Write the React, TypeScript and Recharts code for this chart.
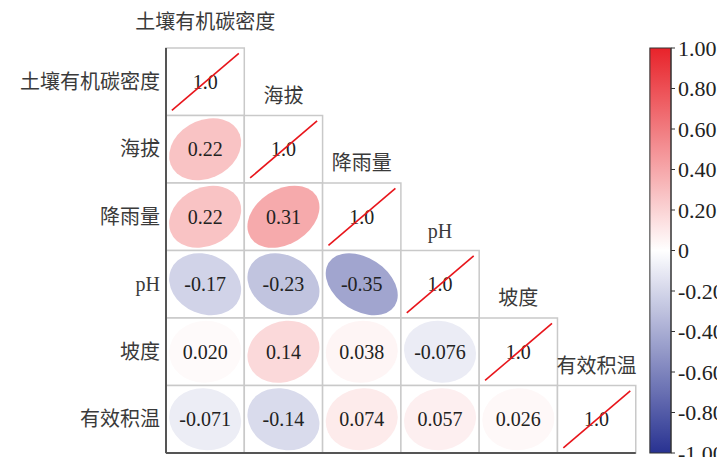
import { ScatterChart, Scatter, XAxis, YAxis, ReferenceArea, ReferenceLine } from "recharts";

const variables = ["土壤有机碳密度", "海拔", "降雨量", "pH", "坡度", "有效积温"];

// lower triangle of the correlation matrix, row by row
const corrRows = [
  [1.0],
  [0.22, 1.0],
  [0.22, 0.31, 1.0],
  [-0.17, -0.23, -0.35, 1.0],
  [0.02, 0.14, 0.038, -0.076, 1.0],
  [-0.071, -0.14, 0.074, 0.057, 0.026, 1.0],
];

const colorbarTicks = [1, 0.8, 0.6, 0.4, 0.2, 0, -0.2, -0.4, -0.6, -0.8, -1];

const FONT = '"Liberation Serif", "Noto Sans CJK SC", serif';
const RED = [232, 35, 42];
const BLUE = [40, 50, 145];

function colorFor(v: number, gain = 1) {
  const t = Math.min(1, Math.abs(v) * gain);
  const end = v >= 0 ? RED : BLUE;
  const c = end.map((e) => Math.round(255 + (e - 255) * t));
  return `rgb(${c.join(",")})`;
}

interface CellDatum {
  row: number;
  col: number;
  r: number;
}

const cells: CellDatum[] = corrRows.flatMap((row, i) =>
  row.map((r, j) => ({ row: i, col: j, r })),
);

const points = cells.map((c) => ({ x: c.col + 0.5, y: c.row + 0.5 }));
// anchors the colour-bar axis to its [-1, 1] range
const cbPoints = colorbarTicks.map((v) => ({ x: 6.3, y: v }));

function CellShape(props: any) {
  const { x, y, width: w, height: h, cell } = props;
  const { row, col, r } = cell as CellDatum;
  const cx = x + w / 2;
  const cy = y + h / 2;
  const diag = row === col;
  const s = 0.46;
  return (
    <g>
      <rect x={x} y={y} width={w} height={h} fill="#fff" stroke="#c9c9c9" strokeWidth={1.5} />
      {!diag && (
        <ellipse
          cx={0}
          cy={0}
          rx={s * Math.sqrt(1 + Math.abs(r))}
          ry={s * Math.sqrt(1 - Math.abs(r))}
          fill={colorFor(r, 1.25)}
          transform={`translate(${cx},${cy}) scale(${w},${h}) rotate(${r >= 0 ? -45 : 45})`}
        />
      )}
      <text
        x={cx}
        y={cy}
        textAnchor="middle"
        dominantBaseline="central"
        fontFamily={FONT}
        fontSize={20}
        fill="#222"
      >
        {r.toPrecision(2)}
      </text>
      {diag && (
        <>
          <line
            x1={x + 0.075 * w}
            y1={y + 0.925 * h}
            x2={x + 0.93 * w}
            y2={y + 0.08 * h}
            stroke="#e8151b"
            strokeWidth={1.6}
          />
          <text
            x={cx}
            y={y - (col === 0 ? 26 : 20)}
            textAnchor="middle"
            dominantBaseline="central"
            fontFamily={FONT}
            fontSize={20}
            fill="#3a3a3a"
          >
            {variables[col]}
          </text>
        </>
      )}
    </g>
  );
}

function ColorbarShape(props: any) {
  const { x, y, width, height } = props;
  const stops = [];
  for (let i = 0; i <= 40; i++) {
    const v = 1 - i / 20;
    stops.push(<stop key={i} offset={`${(i / 40) * 100}%`} stopColor={colorFor(v)} />);
  }
  return (
    <g>
      <defs>
        <linearGradient id="cbGrad" x1="0" y1="0" x2="0" y2="1">
          {stops}
        </linearGradient>
      </defs>
      <rect x={x} y={y} width={width} height={height} fill="url(#cbGrad)" stroke="#333" strokeWidth={1} />
    </g>
  );
}

export default function App() {
  return (
    <ScatterChart width={717} height={449} margin={{ top: 40, right: 0, bottom: 4, left: 0 }}>
      <XAxis type="number" dataKey="x" domain={[0, 6.45]} hide />
      <YAxis
        yAxisId="grid"
        type="number"
        dataKey="y"
        domain={[0, 6]}
        reversed
        width={158}
        ticks={[0.5, 1.5, 2.5, 3.5, 4.5, 5.5]}
        interval={0}
        tickFormatter={(v: number) => variables[Math.floor(v)]}
        tickLine={false}
        tickSize={0}
        tickMargin={6}
        tick={{ fontSize: 20, fontFamily: FONT, fill: "#3a3a3a" }}
        axisLine={{ stroke: "#555", strokeWidth: 2 }}
      />
      <YAxis
        yAxisId="cb"
        orientation="right"
        type="number"
        dataKey="y"
        domain={[-1, 1]}
        width={54}
        ticks={colorbarTicks}
        interval={0}
        tickFormatter={(v: number) => (v === 0 ? "0" : v.toFixed(2))}
        tickSize={4}
        tickMargin={3}
        tickLine={{ stroke: "#333" }}
        tick={{ fontSize: 22, fontFamily: FONT, fill: "#222" }}
        axisLine={{ stroke: "#333" }}
      />
      {cells.map((c) => (
        <ReferenceArea
          key={`${c.row}-${c.col}`}
          yAxisId="grid"
          x1={c.col}
          x2={c.col + 1}
          y1={c.row}
          y2={c.row + 1}
          shape={(p: any) => <CellShape {...p} cell={c} />}
        />
      ))}
      <ReferenceArea yAxisId="cb" x1={6.18} x2={6.45} y1={-1} y2={1} shape={(p: any) => <ColorbarShape {...p} />} />
      <ReferenceLine
        yAxisId="grid"
        segment={[
          { x: 0, y: 6 },
          { x: 6, y: 6 },
        ]}
        stroke="#555"
        strokeWidth={2}
      />
      <Scatter yAxisId="grid" data={points} isAnimationActive={false} shape={() => <g />} />
      <Scatter yAxisId="cb" data={cbPoints} isAnimationActive={false} shape={() => <g />} />
    </ScatterChart>
  );
}
